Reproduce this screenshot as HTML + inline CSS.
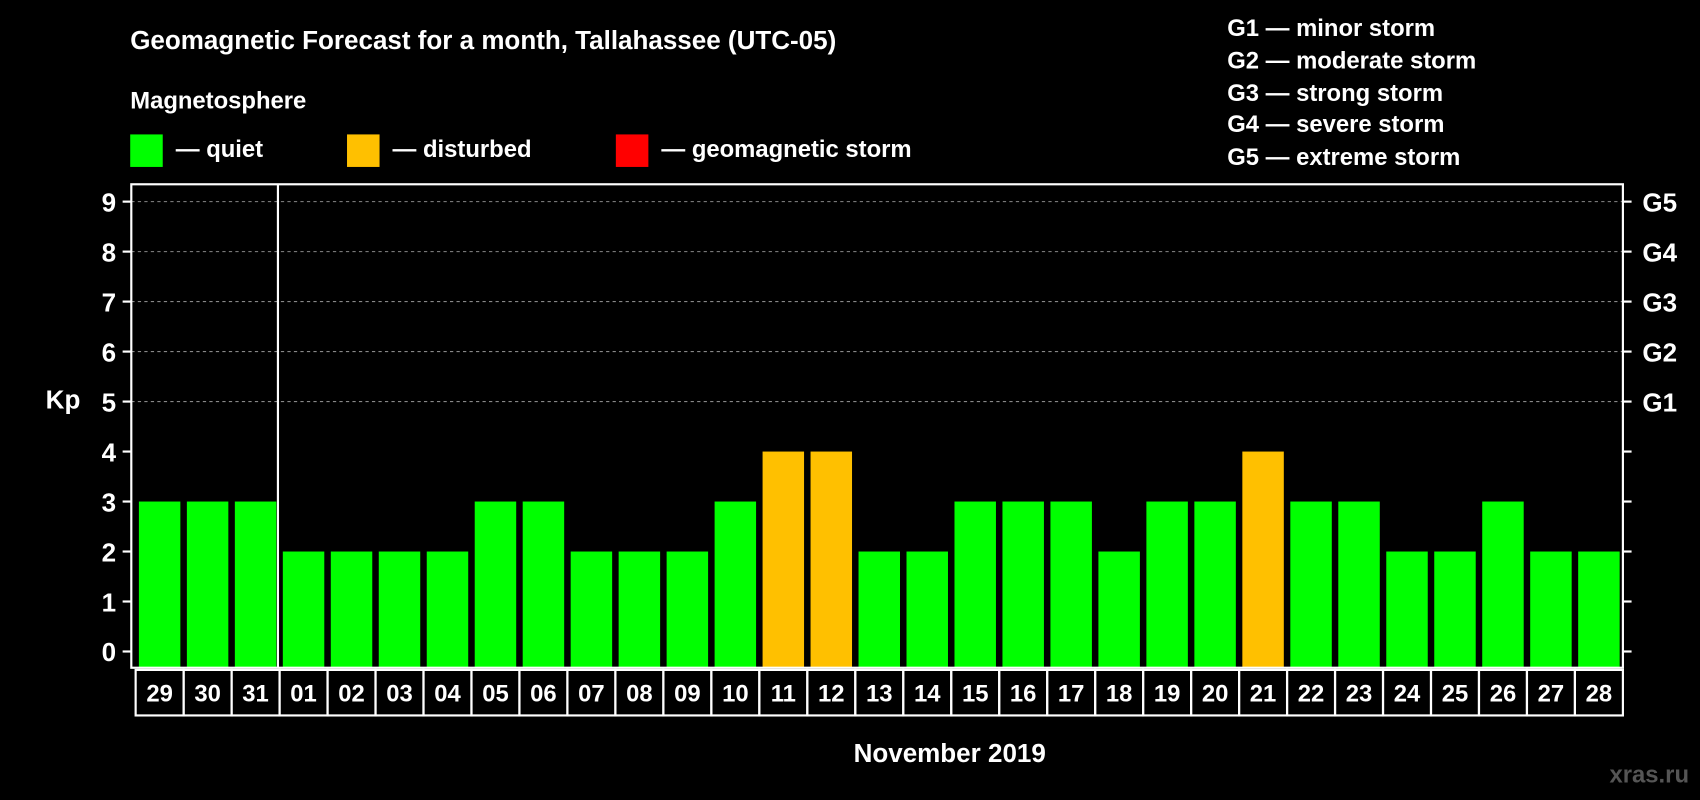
<!DOCTYPE html>
<html><head><meta charset="utf-8"><style>
html,body{margin:0;padding:0;background:#000;}
svg{display:block;font-family:"Liberation Sans",Arial,sans-serif;font-weight:bold;}
</style></head><body>
<svg id="chart" width="1700" height="800" viewBox="0 0 1568 738">
<rect x="0" y="0" width="1568" height="738" fill="#000"/>
<text x="120" y="45" fill="#fff" font-size="24">Geomagnetic Forecast for a month, Tallahassee (UTC-05)</text>
<text x="120" y="100" fill="#fff" font-size="22">Magnetosphere</text>
<g><rect x="120" y="124" width="30" height="30" fill="#00ff00"/><text x="162" y="145" fill="#fff" font-size="22">— quiet</text></g>
<g><rect x="320" y="124" width="30" height="30" fill="#ffc000"/><text x="362" y="145" fill="#fff" font-size="22">— disturbed</text></g>
<g><rect x="568" y="124" width="30" height="30" fill="#ff0000"/><text x="610" y="145" fill="#fff" font-size="22">— geomagnetic storm</text></g>
<g fill="#fff" font-size="22">
<text x="1132" y="33">G1 — minor storm</text>
<text x="1132" y="63">G2 — moderate storm</text>
<text x="1132" y="93">G3 — strong storm</text>
<text x="1132" y="122">G4 — severe storm</text>
<text x="1132" y="152">G5 — extreme storm</text>
</g>
<text x="58" y="377" fill="#fff" font-size="24" text-anchor="middle">Kp</text>
<text x="876" y="703" fill="#fff" font-size="24" text-anchor="middle">November 2019</text>
<text x="1558" y="722" fill="#555" font-size="22" text-anchor="end">xras.ru</text>
<g id="plot"></g>
</svg>
<script>
const days = ["29","30","31","01","02","03","04","05","06","07","08","09","10","11","12","13","14","15","16","17","18","19","20","21","22","23","24","25","26","27","28"];
const kpValues = [3,3,3,2,2,2,2,3,3,2,2,2,3,4,4,2,2,3,3,3,2,3,3,4,3,3,2,2,3,2,2];
const yTicks = [0,1,2,3,4,5,6,7,8,9];
const gLabels = ["G1","G2","G3","G4","G5"];
const gLevels = [5,6,7,8,9];

const NS="http://www.w3.org/2000/svg";
const plot=document.getElementById('plot');
const L=121,R=1497,T=170,B=616;
const y0=601,unit=(601-186)/9;
const pitch=(R-L-4)/days.length;
const xs=i=>L+4+i*pitch;
const yv=v=>y0-v*unit;
function mk(tag,attrs){const e=document.createElementNS(NS,tag);for(const k in attrs)e.setAttribute(k,attrs[k]);plot.appendChild(e);return e;}

yTicks.forEach(v=>{
  if(v>=5){const g=mk('line',{x1:L,x2:R,y1:yv(v),y2:yv(v),stroke:'#888','stroke-dasharray':'3,3','stroke-width':1});
  
  }
  const t=mk('line',{x1:L-8,x2:L,y1:yv(v),y2:yv(v),stroke:'#fff','stroke-width':2});
  
  
  const t2=mk('line',{x1:R,x2:R+8,y1:yv(v),y2:yv(v),stroke:'#fff','stroke-width':2});
  
  
  const lb=mk('text',{x:L-14,y:yv(v)+9,fill:'#fff','font-size':24,'text-anchor':'end'});
  lb.textContent=v;
  
  
});
gLevels.forEach((v,i)=>{
  const lb=mk('text',{x:R+18,y:yv(v)+9,fill:'#fff','font-size':24});
  lb.textContent=gLabels[i];
  
  
});
kpValues.forEach((v,i)=>{
  const c=v>=5?'#ff0000':(v>=4?'#ffc000':'#00ff00');
  const b=mk('rect',{x:xs(i)+3,y:yv(v),width:pitch-6,height:B-yv(v),fill:c});
  
  
  const box=mk('rect',{x:xs(i),y:B+2,width:pitch,height:42,fill:'none',stroke:'#fff','stroke-width':2});
  
  
  const lb=mk('text',{x:xs(i)+pitch/2,y:B+31,fill:'#fff','font-size':22,'text-anchor':'middle'});
  lb.textContent=days[i];
  
  
});
const sep=mk('line',{x1:xs(3)-1.5,x2:xs(3)-1.5,y1:T,y2:B,stroke:'#fff','stroke-width':2});


const frame=mk('rect',{x:L,y:T,width:R-L,height:B-T,fill:'none',stroke:'#fff','stroke-width':2});


</script>
</body></html>
